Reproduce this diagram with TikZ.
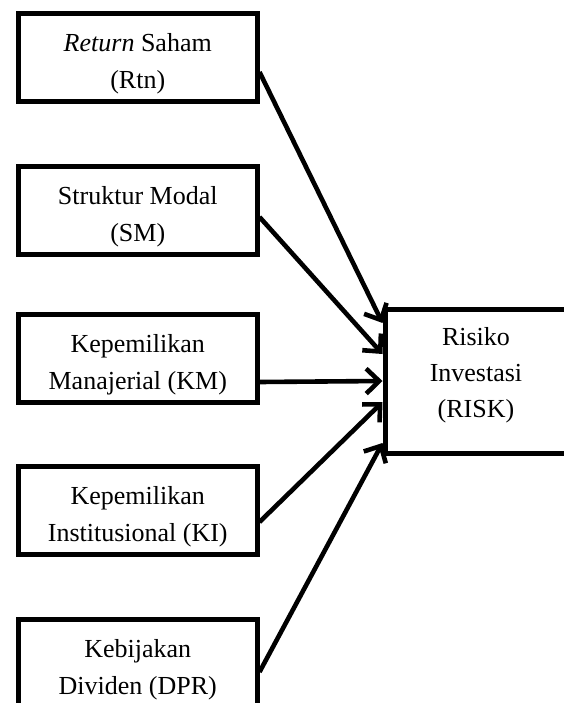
\documentclass[tikz,border=0pt]{standalone}
\usepackage{fontspec}
\setmainfont{Liberation Serif}
\usetikzlibrary{arrows.meta}
\begin{document}
\begin{tikzpicture}[x=1pt,y=-1pt,
  box/.style={draw, line width=5pt, minimum width=238.5pt, minimum height=88pt,
    inner sep=0pt, align=center, text height=62pt, text depth=0pt,
    font=\fontsize{26}{37}\selectfont},
  link/.style={line width=4.6pt, -{Straight Barb[length=13pt,width=25pt]}}]
\useasboundingbox (0,0) rectangle (564,703);
\clip (0,0) rectangle (564,703);
\fill[white] (0,0) rectangle (564,703);
\node[box] (rtn) at (137.75,58) {\textit{Return} Saham\\(Rtn)};
\node[box] (sm) at (137.75,210.5) {Struktur Modal\\(SM)};
\node[box] (km) at (137.75,358) {Kepemilikan\\Manajerial (KM)};
\node[box] (ki) at (137.75,510.5) {Kepemilikan\\Institusional (KI)};
\node[box] (dpr) at (137.75,663) {Kebijakan\\Dividen (DPR)};
\node[box, minimum width=182pt, minimum height=144pt, text height=73pt,
  font=\fontsize{26}{36}\selectfont] (risk) at (476,381) {Risiko\\Investasi\\(RISK)};
\draw[link] ([yshift=-14pt]rtn.east) -- ([yshift=58pt]risk.west);
\draw[link] ([yshift=-6.5pt]sm.east) -- ([yshift=27pt]risk.west);
\draw[link] ([yshift=-24pt]km.east) -- ([yshift=0pt]risk.west);
\draw[link] ([yshift=-11.5pt]ki.east) -- ([yshift=-21pt]risk.west);
\draw[link] ([yshift=-9pt]dpr.east) -- ([yshift=-62pt]risk.west);
\end{tikzpicture}
\end{document}
